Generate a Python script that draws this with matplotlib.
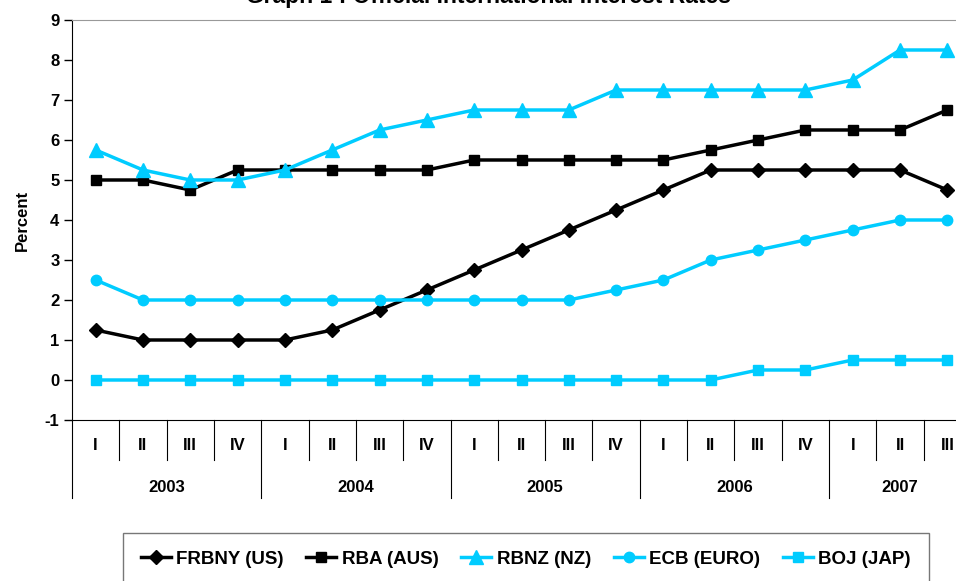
import matplotlib
matplotlib.use("Agg")
import matplotlib.pyplot as plt

plt.rcParams['font.family'] = ['Liberation Sans', 'DejaVu Sans']
plt.rcParams['font.weight'] = 'bold'
plt.rcParams['axes.unicode_minus'] = False

years = ["2003", "2004", "2005", "2006", "2007"]
quarters_per_year = [4, 4, 4, 4, 3]
quarter_names = ["I", "II", "III", "IV"]

frbny_us = [1.25, 1.0, 1.0, 1.0, 1.0, 1.25, 1.75, 2.25, 2.75, 3.25, 3.75, 4.25,
            4.75, 5.25, 5.25, 5.25, 5.25, 5.25, 4.75]
rba_aus = [5.0, 5.0, 4.75, 5.25, 5.25, 5.25, 5.25, 5.25, 5.5, 5.5, 5.5, 5.5,
           5.5, 5.75, 6.0, 6.25, 6.25, 6.25, 6.75]
rbnz_nz = [5.75, 5.25, 5.0, 5.0, 5.25, 5.75, 6.25, 6.5, 6.75, 6.75, 6.75, 7.25,
           7.25, 7.25, 7.25, 7.25, 7.5, 8.25, 8.25]
ecb_euro = [2.5, 2.0, 2.0, 2.0, 2.0, 2.0, 2.0, 2.0, 2.0, 2.0, 2.0, 2.25,
            2.5, 3.0, 3.25, 3.5, 3.75, 4.0, 4.0]
boj_jap = [0, 0, 0, 0, 0, 0, 0, 0, 0, 0, 0, 0,
           0, 0, 0.25, 0.25, 0.5, 0.5, 0.5]

CYAN = "#00CCFF"
W, H = 956, 581
fig = plt.figure(figsize=(W / 100, H / 100), dpi=100)
ax = fig.add_axes([72 / W, 1 - 420 / H, (971 - 72) / W, 400 / H])

n = len(frbny_us)
x = [i + 0.5 for i in range(n)]
lw = 2.5
ax.plot(x, frbny_us, color="black", lw=lw, marker="D", ms=7.5, label="FRBNY (US)")
ax.plot(x, rba_aus, color="black", lw=lw, marker="s", ms=7.5, label="RBA (AUS)")
ax.plot(x, rbnz_nz, color=CYAN, lw=lw, marker="^", ms=10, label="RBNZ (NZ)")
ax.plot(x, ecb_euro, color=CYAN, lw=lw, marker="o", ms=7.5, label="ECB (EURO)")
ax.plot(x, boj_jap, color=CYAN, lw=lw, marker="s", ms=7.5, label="BOJ (JAP)")

ax.set_xlim(0, n)
ax.set_ylim(-1, 9)
ax.set_yticks(range(-1, 10))
ax.tick_params(axis="y", direction="out", length=6, width=1, labelsize=12, pad=3)
for t in ax.get_yticklabels():
    t.set_fontweight("bold")
ax.set_xticks([])
ax.set_ylabel("Percent", fontsize=12, fontweight="bold", labelpad=11)

ax.spines["right"].set_visible(False)
ax.spines["top"].set_color("#999999")
ax.spines["left"].set_color("black")
ax.spines["bottom"].set_color("black")

# multi-level category axis: quarters above, years below
tr = ax.get_xaxis_transform()
q_depth, y_depth = -0.10, -0.195
pos = 0
for yi, (yr, nq) in enumerate(zip(years, quarters_per_year)):
    for qi in range(nq):
        ax.text(pos + qi + 0.5, -0.0625, quarter_names[qi], transform=tr,
                ha="center", va="center", fontsize=12, fontweight="bold")
        if qi > 0:
            ax.plot([pos + qi] * 2, [0, q_depth], transform=tr, color="black",
                    lw=0.8, clip_on=False)
    ax.plot([pos] * 2, [0, y_depth], transform=tr, color="black", lw=0.8, clip_on=False)
    ax.text(pos + nq / 2, -0.1675, yr, transform=tr, ha="center", va="center",
            fontsize=12, fontweight="bold")
    pos += nq
ax.plot([pos] * 2, [0, y_depth], transform=tr, color="black", lw=0.8, clip_on=False)

fig.text(488 / W, 1 - 3.5 / H, "Graph 1 : Official International Interest Rates",
         ha="center", va="baseline", fontsize=16.5, fontweight="bold")

leg = fig.legend(loc="upper left", bbox_to_anchor=(123 / W, 1 - 533 / H),
                 ncol=5, frameon=True, fancybox=False,
                 handlelength=1.6, handletextpad=0.3, borderpad=0.95,
                 columnspacing=1.2, borderaxespad=0,
                 prop={"weight": "bold", "size": 13.5})
leg.get_frame().set_edgecolor("#555555")
leg.get_frame().set_linewidth(1.0)

fig.savefig("out.png", dpi=100)
